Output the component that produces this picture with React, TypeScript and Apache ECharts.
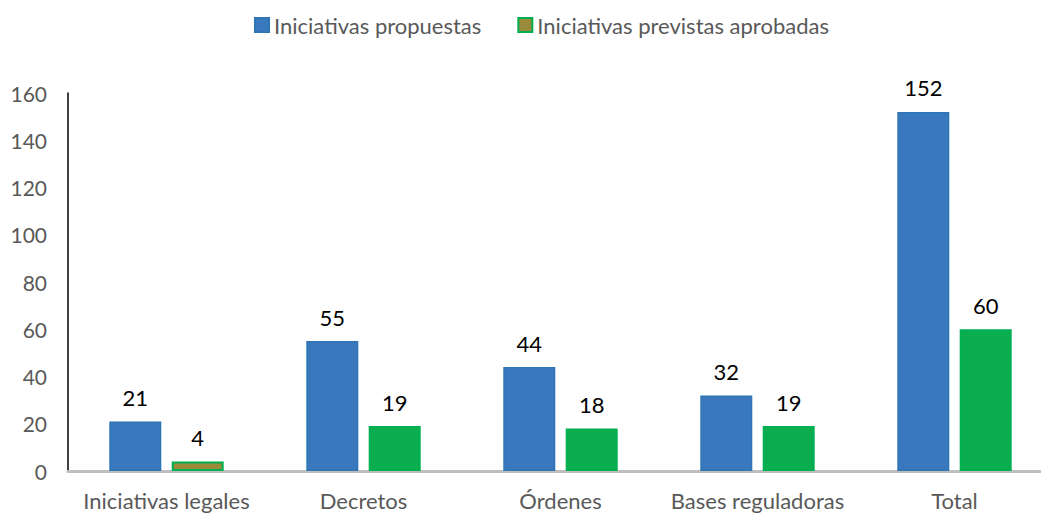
import React, { useEffect, useRef } from "react";
import * as echarts from "echarts";

const categories = ["Iniciativas legales", "Decretos", "Órdenes", "Bases reguladoras", "Total"];
const propuestas = [21, 55, 44, 32, 152];
const aprobadas = [4, 19, 18, 19, 60];
const yTicks = { min: 0, max: 160, interval: 20 };

const FONT = "Lato, 'Open Sans', sans-serif";

export default function App() {
  const ref = useRef<HTMLDivElement>(null);
  useEffect(() => {
    const chart = echarts.init(ref.current!, undefined, { renderer: "svg" });
    chart.setOption({
      animation: false,
      textStyle: { fontFamily: FONT },
      legend: {
        top: 9,
        left: 249,
        icon: "rect",
        itemWidth: 14,
        itemHeight: 14,
        itemGap: 36,
        textStyle: { fontSize: 22, color: "#595959", fontFamily: FONT },
        data: ["Iniciativas propuestas", "Iniciativas previstas aprobadas"],
      },
      grid: { left: 68, right: 0, top: 93, bottom: 44, containLabel: false },
      xAxis: {
        type: "category",
        data: categories,
        axisLine: { show: true, lineStyle: { color: "#BFBFBF", width: 3 } },
        axisTick: { show: false },
        axisLabel: { fontSize: 22, color: "#595959", margin: 18, interval: 0, fontFamily: FONT },
      },
      yAxis: {
        type: "value",
        min: yTicks.min,
        max: yTicks.max,
        interval: yTicks.interval,
        axisLine: { show: true, lineStyle: { color: "#000", width: 1.5 } },
        axisTick: { show: false },
        splitLine: { show: false },
        axisLabel: { fontSize: 21, color: "#595959", margin: 21, fontFamily: FONT },
      },
      series: [
        {
          name: "Iniciativas propuestas",
          type: "bar",
          data: propuestas,
          barWidth: 52,
          barGap: "20%",
          itemStyle: { color: "#3A78BE", borderColor: "#2E75B6", borderWidth: 1.5 },
          label: { show: true, position: "top", distance: 13, fontSize: 22, color: "#000", fontFamily: FONT },
        },
        {
          name: "Iniciativas previstas aprobadas",
          type: "bar",
          data: aprobadas.map((v, i) => (i === 0 ? v : { value: v, itemStyle: { color: "#0BAE4F" } })),
          barWidth: 52,
          itemStyle: { color: "#9A8B3C", borderColor: "#00B050", borderWidth: 2 },
          label: { show: true, position: "top", distance: 13, fontSize: 22, color: "#000", fontFamily: FONT },
        },
      ],
    });
    return () => chart.dispose();
  }, []);
  return (
    <div style={{ position: "absolute", left: 0, top: 0, width: 1041, height: 515, overflow: "hidden", background: "#fff" }}>
      <div ref={ref} style={{ width: 1053, height: 515 }} />
    </div>
  );
}
